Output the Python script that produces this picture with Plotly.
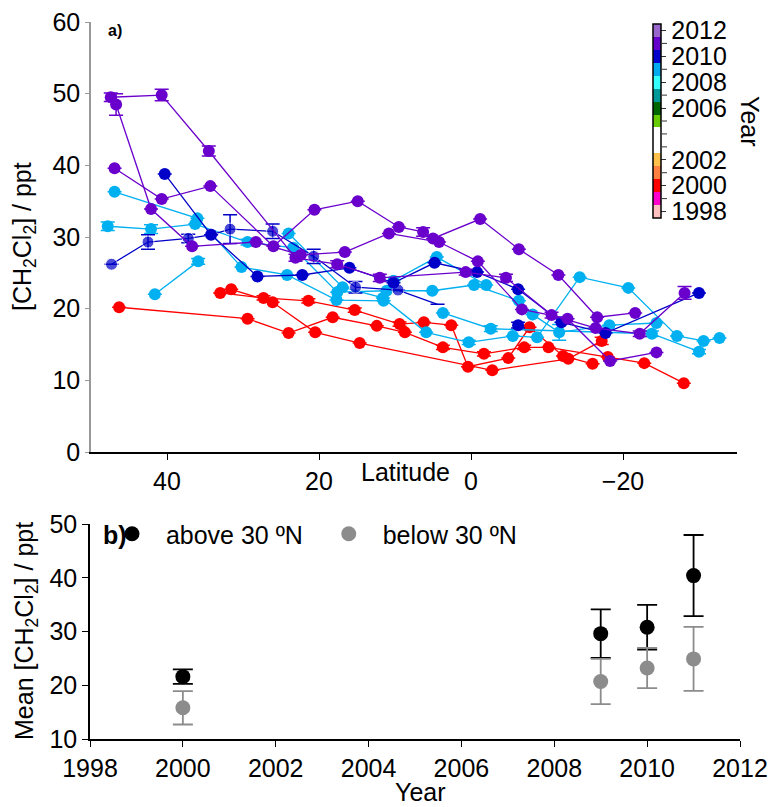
import plotly.graph_objects as go

# ---------------- Panel a data (latitude, CH2Cl2 ppt, error) ----------------
# 2000 cruises (red)
red1_lat = [46.3, 29.4, 24.0, 18.2, 12.4, 8.7, 3.7, -1.7, -7.0, -10.2, -18.0, -22.8, -28.0]
red1_val = [20.2, 18.6, 16.6, 18.8, 17.6, 16.7, 14.6, 13.7, 14.6, 14.6, 13.25, 12.4, 9.6]
red1_err = [None, None, None, None, None, None, 0.3, 0.3, 0.3, None, None, None, None]
red2_lat = [33.0, 27.3, 21.4, 15.3, 9.4, 6.2, 2.6, 0.4, -4.9, -7.7, -12.1, -16.0]
red2_val = [22.2, 21.5, 21.1, 19.8, 17.85, 18.1, 17.7, 11.9, 13.1, 17.4, 13.4, 12.3]
red2_err = [None, 0.3, 0.3, 0.3, 0.3, None, None, None, None, None, None, None]
red3_lat = [31.55, 26.1, 20.5, 14.65, -2.8, -12.8, -17.2]
red3_val = [22.7, 20.9, 16.7, 15.2, 11.4, 13.0, 15.5]
red3_err = [None, None, None, None, None, None, 0.5]

# 2009 cruises (light blue)
lb1_lat = [47.8, 42.1, 36.3, 29.4, 23.4, 17.6, 11.1, 5.1, -0.4, -6.3, -8.1, -11.6, -18.2, -24.4]
lb1_val = [31.5, 31.1, 31.8, 29.3, 28.5, 22.3, 22.5, 22.5, 23.3, 21.1, 19.2, 16.7, 17.7, 18.0]
lb1_err = [0.6, 0.6, None, 0.4, None, None, None, None, None, None, None, 1.1, None, None]
lb2_lat = [46.9, 36.0, 30.2, 24.2, 17.7, 11.5, 10.2, 4.5, -2.0]
lb2_val = [36.3, 32.6, 25.8, 24.7, 21.2, 21.1, 23.9, 27.2, 23.3]
lb2_err = [None] * 9
lb3_lat = [41.6, 35.9]
lb3_val = [22.0, 26.6]
lb3_err = [None, 0.4]
lb4_lat = [24.0, 16.9, 11.6, 5.9, 0.3, -5.5, -8.7, -14.3, -20.7, -27.1, -30.6, -32.7]
lb4_val = [30.5, 23.0, 21.5, 16.7, 15.3, 16.2, 16.0, 24.4, 22.9, 16.2, 15.5, 15.9]
lb4_err = [None, None, None, None, 0.3, None, None, None, None, None, None, None]
lb5_lat = [3.7, -2.6, -23.8, -30.0]
lb5_val = [19.4, 17.2, 16.5, 14.0]
lb5_err = [None, 0.4, 0.4, 0.3]

# 2010 cruises (dark blue)
db1_lat = [47.3, 42.5, 37.2, 34.2, 31.7, 26.1, 20.7, 15.2, 9.6, 4.4]
db1_val = [26.2, 29.3, 29.8, 30.3, 31.1, 30.8, 27.3, 23.0, 22.6, 20.6]
db1_err = [None, 1.0, 0.6, None, 2.0, 1.0, 1.0, 0.8, None, None]
db2_lat = [40.3, 34.2, 28.1, 22.2, 16.0, 10.2, 4.8, -0.8, -6.2, -11.9, -17.7, -30.0]
db2_val = [38.8, 30.3, 24.5, 24.7, 25.7, 23.6, 26.4, 25.1, 22.7, 18.1, 16.6, 22.2]
db2_err = [None] * 12
db3_lat = [-6.2]
db3_val = [17.7]
db3_err = [0.4]

# 2011 cruises (violet)
v1_lat = [47.4, 40.7, 34.5, 23.1, 17.6, 12.0, 0.7, -4.6, -10.6, -16.4, -22.2, -28.1]
v1_val = [49.5, 49.8, 42.0, 27.1, 26.2, 24.3, 25.1, 24.3, 19.1, 17.3, 16.5, 22.2]
v1_err = [0.6, 0.8, 0.7, 0.5, 0.5, 0.5, 0.4, 0.5, 0.4, None, 0.4, 0.9]
v2_lat = [46.7, 42.1, 36.7, 28.3, 22.4, 16.6, 10.8, 4.2, -0.9, -6.7, -12.7, -18.3, -24.4]
v2_val = [48.5, 33.9, 28.7, 29.3, 27.5, 27.9, 30.5, 29.3, 26.6, 19.9, 18.6, 12.7, 13.9]
v2_err = [1.5] + [None] * 12
v3_lat = [46.9, 40.7, 34.3, 26.0, 20.6, 14.9, 9.5, 6.3, 5.0, -1.2, -6.3, -11.5, -16.6, -21.6]
v3_val = [39.6, 35.3, 37.1, 28.7, 33.8, 35.0, 31.4, 30.7, 29.8, 32.5, 28.3, 24.7, 18.8, 19.4]
v3_err = [None, None, None, None, None, None, None, 0.6, None, None, None, None, None, None]

# ---------------- Panel b data ----------------
b_years = [2000, 2009, 2010, 2011]
above_mean = [21.6, 29.6, 30.8, 40.4]
above_err = [1.35, 4.5, 4.15, 7.55]
below_mean = [15.8, 20.7, 23.2, 24.9]
below_err = [3.1, 4.2, 3.75, 5.95]

# colour bar years / colours
cb_years = list(range(1998, 2013))
cb_colors = ["#FFC0C0", "#FF00CC", "#FF0000", "#FF8040", "#FFC04C", "#FFFFFF", "#FFFFFF",
             "#66CC00", "#006600", "#009999", "#33FFFF", "#00AAEE", "#0000CC", "#6600CC", "#9966CC"]
cb_label_years = [1998, 2000, 2002, 2006, 2008, 2010, 2012]

RED = "#FF0000"
LBLUE = "#00B0F0"
DBLUE = "#0000C8"
VIOLET = "#6A00CC"

W, H = 769, 807
FONT = "Liberation Sans, Arial, sans-serif"
FS = 25

fig = go.Figure()


def add_line(lat, val, err, color, sizes=None):
    fig.add_trace(go.Scatter(
        x=lat, y=val, mode="lines+markers", xaxis="x", yaxis="y",
        line=dict(color=color, width=1.3),
        marker=dict(color=color, size=sizes if sizes else 12),
        error_y=dict(type="data", array=err, visible=True, color=color,
                     thickness=1.5, width=7),
        showlegend=False, hoverinfo="skip"))


for la, va, er in [(red1_lat, red1_val, red1_err), (red2_lat, red2_val, red2_err),
                   (red3_lat, red3_val, red3_err)]:
    add_line(la, va, er, RED)
for la, va, er in [(lb1_lat, lb1_val, lb1_err), (lb2_lat, lb2_val, lb2_err),
                   (lb3_lat, lb3_val, lb3_err), (lb4_lat, lb4_val, lb4_err),
                   (lb5_lat, lb5_val, lb5_err)]:
    add_line(la, va, er, LBLUE)
add_line(db1_lat, db1_val, db1_err, DBLUE, sizes=[12] * (len(db1_lat) - 1) + [0])
add_line(db2_lat, db2_val, db2_err, DBLUE)
add_line(db3_lat, db3_val, db3_err, DBLUE)
for la, va, er in [(v1_lat, v1_val, v1_err), (v2_lat, v2_val, v2_err),
                   (v3_lat, v3_val, v3_err)]:
    add_line(la, va, er, VIOLET)

# colour bar (dummy trace)
CB_LEFT, CB_THICK, CB_TOP, CB_LEN = 653, 8, 24, 194
CB_MIN, CB_MAX = 1997.5, 2012.5
n = len(cb_colors)
cscale = []
for i, c in enumerate(cb_colors):
    cscale.append([i / n, c])
    cscale.append([(i + 1) / n, c])
fig.add_trace(go.Scatter(
    x=[None], y=[None], mode="markers", xaxis="x", yaxis="y", showlegend=False,
    marker=dict(color=[2000], cmin=CB_MIN, cmax=CB_MAX, colorscale=cscale, showscale=True,
                colorbar=dict(
                    x=CB_LEFT / W, xanchor="left", y=1 - (CB_TOP + CB_LEN / 2) / H,
                    yanchor="middle", len=CB_LEN / H, lenmode="fraction",
                    thickness=CB_THICK, thicknessmode="pixels",
                    outlinewidth=1.5, outlinecolor="black", xpad=0, ypad=0,
                    tickvals=cb_label_years, ticktext=[str(v) for v in cb_label_years],
                    ticks="outside", ticklen=5, tickwidth=1, tickcolor="#333333",
                    tickfont=dict(size=FS, family=FONT, color="black")))))

# unlabelled yearly tick marks on the colour bar
shapes = []
for yr in cb_years:
    if yr in cb_label_years:
        continue
    ypx = CB_TOP + (CB_MAX - yr) / (CB_MAX - CB_MIN) * CB_LEN
    shapes.append(dict(type="line", xref="paper", yref="paper",
                       x0=(CB_LEFT + CB_THICK + 1) / W, x1=(CB_LEFT + CB_THICK + 6) / W,
                       y0=1 - ypx / H, y1=1 - ypx / H,
                       line=dict(color="#333333", width=1)))

# Panel b
NB = "\u00a0"
fig.add_trace(go.Scatter(
    x=b_years, y=above_mean, mode="markers", xaxis="x2", yaxis="y2",
    name=NB * 2 + "above 30 ºN" + NB * 3, marker=dict(color="black", size=15),
    error_y=dict(type="data", array=above_err, color="black", thickness=1.8, width=10)))
fig.add_trace(go.Scatter(
    x=b_years, y=below_mean, mode="markers", xaxis="x2", yaxis="y2",
    name=NB * 2 + "below 30 ºN", marker=dict(color="#8C8C8C", size=15),
    error_y=dict(type="data", array=below_err, color="#8C8C8C", thickness=1.8, width=10)))

tickfont = dict(size=FS, family=FONT, color="black")
fig.update_layout(
    width=W, height=H, margin=dict(l=0, r=0, t=0, b=0, autoexpand=False),
    paper_bgcolor="white", plot_bgcolor="white",
    font=dict(family=FONT, size=FS, color="black"),
    shapes=shapes,
    xaxis=dict(domain=[91 / W, 737 / W], anchor="y", range=[50, -35], automargin=False,
               tickvals=[40, 20, 0, -20], ticks="outside", ticklen=6, tickcolor="black",
               showline=True, linecolor="black", linewidth=1.5, showgrid=False,
               zeroline=False, tickfont=tickfont),
    yaxis=dict(domain=[1 - 452 / H, 1 - 22 / H], anchor="x", range=[0, 60], automargin=False,
               tickvals=[0, 10, 20, 30, 40, 50, 60], ticks="outside", ticklen=4,
               tickcolor="#999999", showline=True, linecolor="#999999", linewidth=1.5,
               showgrid=False, zeroline=False, tickfont=tickfont),
    xaxis2=dict(domain=[90 / W, 740 / W], anchor="y2", range=[1998, 2012], automargin=False,
                tickvals=list(range(1998, 2013, 2)), ticks="outside", ticklen=6,
                tickcolor="black", showline=True, linecolor="black", linewidth=1.5,
                showgrid=False, zeroline=False, tickfont=tickfont),
    yaxis2=dict(domain=[1 - 739 / H, 1 - 524 / H], anchor="x2", range=[10, 50],
                automargin=False,
                tickvals=[10, 20, 30, 40, 50], ticks="outside", ticklen=6,
                tickcolor="black", showline=True, linecolor="black", linewidth=1.5,
                showgrid=False, zeroline=False, tickfont=tickfont),
    legend=dict(orientation="h", x=112 / W, xanchor="left", y=1 - 534 / H,
                yanchor="middle", font=dict(size=FS, family=FONT, color="black"),
                bgcolor="rgba(0,0,0,0)", tracegroupgap=0),
)

ann = [
    dict(text="<b>a)</b>", x=115 / W, y=1 - 30 / H, font=dict(size=16)),
    dict(text="Latitude", x=405 / W, y=1 - 472 / H, font=dict(size=FS)),
    dict(text="Year", x=750 / W, y=1 - 121 / H, font=dict(size=FS), textangle=90),
    dict(text="[CH<sub>2</sub>Cl<sub>2</sub>] / ppt", x=24 / W, y=1 - 237 / H,
         font=dict(size=FS), textangle=-90),
    dict(text="<b>b)</b>", x=115 / W, y=1 - 535 / H, font=dict(size=FS)),
    dict(text="Mean [CH<sub>2</sub>Cl<sub>2</sub>] / ppt", x=26 / W, y=1 - 631 / H,
         font=dict(size=FS), textangle=-90),
    dict(text="Year", x=420 / W, y=1 - 792 / H, font=dict(size=FS)),
]
for a in ann:
    a.update(xref="paper", yref="paper", showarrow=False, xanchor="center", yanchor="middle")
    a["font"].update(family=FONT, color="black")
fig.update_layout(annotations=ann)

fig.write_html("out.html", config={"displayModeBar": False},
               post_script="document.body.style.margin='0';")
